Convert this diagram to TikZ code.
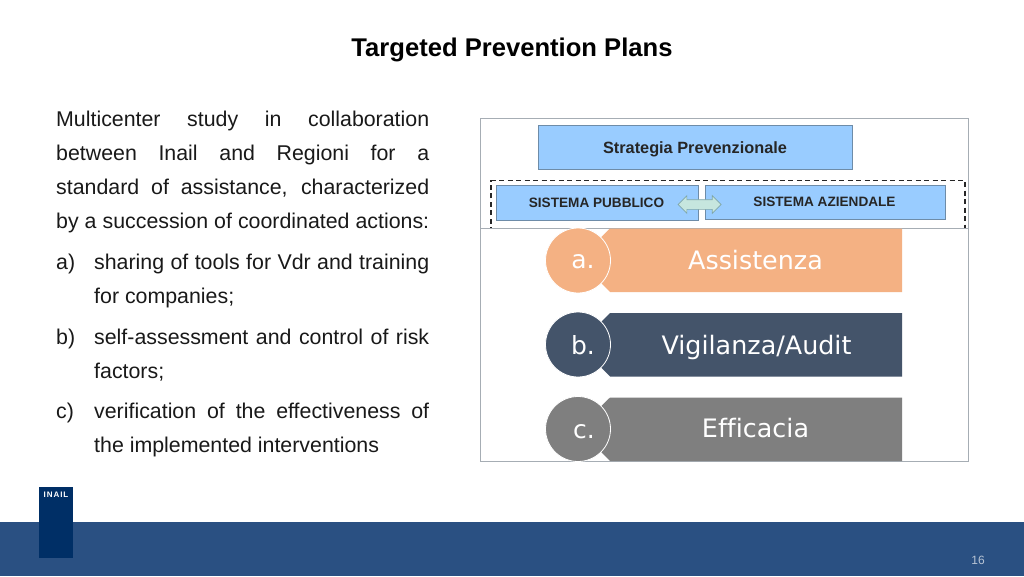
\documentclass[tikz,border=0pt]{standalone}
\usepackage{fontspec}
\setmainfont{Liberation Sans}
\newfontfamily\djv[Ligatures=NoCommon]{DejaVu Sans}
\newfontfamily\logofont[LetterSpace=12]{Liberation Sans}
\usetikzlibrary{shapes.arrows}
\definecolor{barblue}{HTML}{2A5082}
\definecolor{logoblue}{HTML}{002F66}
\definecolor{framegray}{HTML}{A6ADB4}
\definecolor{skybox}{HTML}{99CCFF}
\definecolor{skyline}{HTML}{6E8CA8}
\definecolor{arrowfill}{HTML}{C6E6DE}
\definecolor{arrowline}{HTML}{7FA6A8}
\definecolor{peach}{HTML}{F4B183}
\definecolor{slate}{HTML}{44546A}
\definecolor{midgray}{HTML}{7F7F7F}
\definecolor{pagegray}{HTML}{B8C4D4}
\newcommand{\jl}[1]{\makebox[373pt][s]{#1}}
\tikzset{
 body/.style={anchor=base west,inner sep=0pt,font=\fontsize{21.35}{24}\selectfont,text=black!90},
 frame/.style={draw=framegray,line width=0.9pt,fill=white},
 skyb/.style={draw=skyline,line width=0.8pt,fill=skybox},
 boxt/.style={anchor=base,inner sep=0pt,font=\bfseries\fontsize{13.6}{16}\selectfont,text=black!85},
 disc/.style={circle,draw=white,line width=0.8pt,minimum size=65pt,inner sep=0pt},
 discl/.style={anchor=base,inner sep=0pt,text=white,font=\djv\fontsize{25}{30}\selectfont},
 bandl/.style={anchor=base,inner sep=0pt,text=white,font=\djv\fontsize{25.4}{30}\selectfont},
}
\begin{document}
\begin{tikzpicture}[x=1pt,y=-1pt]
\useasboundingbox (0,0) rectangle (1024,576);
\fill[white] (0,0) rectangle (1024,576);
\node[anchor=base,inner sep=0pt,font=\bfseries\fontsize{25.6}{28}\selectfont] (title) at (512,56.5) {Targeted Prevention Plans};
% left text
\node[body] (l1) at (56,126.5) {\jl{Multicenter study in collaboration}};
\node[body] (l2) at (56,160.5) {\jl{between Inail and Regioni for a}};
\node[body] (l3) at (56,194.5) {\jl{standard of assistance, characterized}};
\node[body] (l4) at (56,228.5) {\jl{by a succession of coordinated actions:}};
\node[body] (la) at (56,269.5) {a)};
\node[body] (l5) at (94,269.5) {\makebox[335pt][s]{sharing of tools for Vdr and training}};
\node[body] (l6) at (94,303.5) {for companies;};
\node[body] (lb) at (56,344.5) {b)};
\node[body] (l7) at (94,344.5) {\makebox[335pt][s]{self-assessment and control of risk}};
\node[body] (l8) at (94,378.5) {factors;};
\node[body] (lc) at (56,418.5) {c)};
\node[body] (l9) at (94,418.5) {\makebox[335pt][s]{verification of the effectiveness of}};
\node[body] (l10) at (94,452.5) {the implemented interventions};
% upper picture
\draw[frame] (480,118.5) rectangle (968.7,232);
\node[skyb,minimum width=313.5pt,minimum height=43.5pt,inner sep=0pt,anchor=north west] (strat) at (538.2,125) {};
\node[anchor=base,inner sep=0pt,font=\bfseries\fontsize{16.3}{18}\selectfont,text=black!85] (stratt) at (695,153) {Strategia Prevenzionale};
\draw[black!85,line width=1.1pt,dash pattern=on 5pt off 3.5pt] (491,232)--(491,180.5)--(965,180.5)--(965,232);
\node[skyb,minimum width=201.5pt,minimum height=35.5pt,inner sep=0pt,anchor=north west] (pub) at (496,184.5) {};
\node[skyb,minimum width=239.5pt,minimum height=34pt,inner sep=0pt,anchor=north west] (azi) at (705,184.5) {};
\node[boxt] (pubt) at (596.5,207.5) {SISTEMA PUBBLICO};
\node[boxt] (azit) at (824.5,206) {SISTEMA AZIENDALE};
\node[double arrow,draw=arrowline,fill=arrowfill,line width=0.7pt,text height=9pt,text depth=0pt,text width=0pt,minimum width=17pt,minimum height=43pt,double arrow head extend=4pt,inner sep=0pt] (link) at (699.5,204.5) {};
% lower picture
\draw[frame] (480,228.5) rectangle (968.7,461);
\fill[peach] (610,228.5)--(902,228.5)--(902,292)--(610,292)--(590,272)--(590,248)--cycle;
\fill[slate] (610,313)--(902,313)--(902,376.5)--(610,376.5)--(590,356)--(590,333)--cycle;
\fill[midgray] (610,397.5)--(902,397.5)--(902,461)--(610,461)--(590,441)--(590,417)--cycle;
\node[disc,fill=peach] (da) at (578,260.5) {};
\node[disc,fill=slate] (db) at (578,344.5) {};
\node[disc,fill=midgray] (dc) at (578,429) {};
\node[discl] (ta) at (583,268) {a.};
\node[discl] (tb) at (583,354) {b.};
\node[discl] (tc) at (584,438) {c.};
\node[bandl] (ba) at (755.5,269) {Assistenza};
\node[bandl] (bb) at (756.5,354) {Vigilanza/Audit};
\node[bandl] (bc) at (755.5,437.5) {Efficacia};
% footer
\fill[barblue] (0,522) rectangle (1024,576);
\fill[logoblue] (39,487) rectangle (73,558);
\node[anchor=base,inner sep=0pt,text=white,font=\logofont\bfseries\fontsize{8}{9}\selectfont] (logo) at (56,497) {INAIL};
\node[inner sep=0pt,text=pagegray,font=\fontsize{12}{14}\selectfont] (page) at (978,560) {16};
\end{tikzpicture}
\end{document}
